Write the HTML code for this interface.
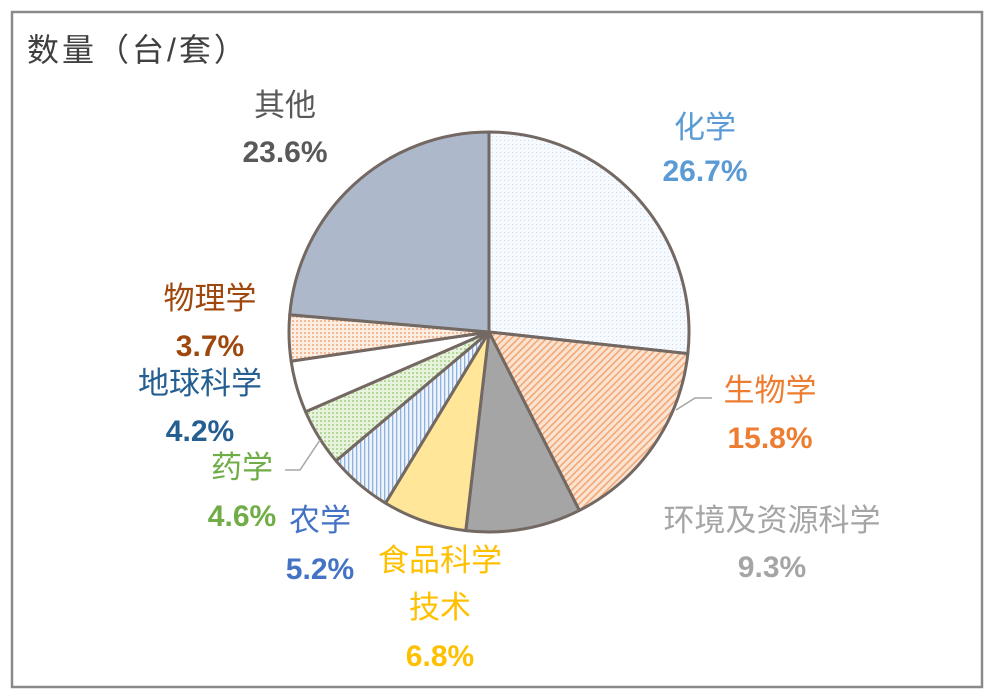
<!DOCTYPE html>
<html><head><meta charset="utf-8"><style>
html,body{margin:0;padding:0;background:#fff;}
svg{display:block;}
text{font-family:"Liberation Sans","Noto Sans CJK SC",sans-serif;font-size:31px;text-anchor:middle;}
.p{font-weight:bold;font-size:30px;}
</style></head><body>
<svg id="s" width="993" height="699" viewBox="0 0 993 699" xmlns="http://www.w3.org/2000/svg">
<defs>
<pattern id="dots" width="4" height="4" patternUnits="userSpaceOnUse"><rect width="4" height="4" fill="#f6f9fd"/><rect width="1" height="1" fill="#c9dcef"/></pattern>
<pattern id="diag" width="5" height="5" patternUnits="userSpaceOnUse" patternTransform="rotate(45)"><rect width="5" height="5" fill="#fbe3d2"/><rect width="1.6" height="5" fill="#f1a875"/></pattern>
<pattern id="vert" width="4" height="4" patternUnits="userSpaceOnUse"><rect width="4" height="4" fill="#eef4fb"/><rect width="1.3" height="4" fill="#8fb1dd"/></pattern>
<pattern id="grid" width="4" height="4" patternUnits="userSpaceOnUse"><rect width="4" height="4" fill="#e8f3de"/><rect width="2" height="2" fill="#b5d79a"/></pattern>
<pattern id="cross" width="4" height="4" patternUnits="userSpaceOnUse"><rect width="4" height="4" fill="#fdeee4"/><rect width="2" height="2" fill="#f3b894"/></pattern>
</defs>
<rect x="12" y="12" width="970" height="675" fill="#fff" stroke="#8a8a8a" stroke-width="2.5"/>
<g id="pie"></g>
<polyline points="676,410 695,398 712,398" fill="none" stroke="#a5a5a5" stroke-width="1.5"/>
<polyline points="320,440 300,470 285,470" fill="none" stroke="#a5a5a5" stroke-width="1.5"/>
<text x="27" y="61" style="text-anchor:start;font-size:32px;letter-spacing:3px" fill="#404040">数量（台/套）</text>
<text x="285" y="116" fill="#595959">其他</text><text class="p" x="285" y="162" fill="#595959">23.6%</text>
<text x="705" y="138" fill="#5b9bd5">化学</text><text class="p" x="705" y="181" fill="#5b9bd5">26.7%</text>
<text x="770" y="401" fill="#ed7d31">生物学</text><text class="p" x="770" y="448" fill="#ed7d31">15.8%</text>
<text x="772" y="531" fill="#a5a5a5">环境及资源科学</text><text class="p" x="772" y="577" fill="#a5a5a5">9.3%</text>
<text x="440" y="571" fill="#ffc000">食品科学</text><text x="440" y="618" fill="#ffc000">技术</text><text class="p" x="440" y="666" fill="#ffc000">6.8%</text>
<text x="320" y="531" fill="#4472c4">农学</text><text class="p" x="320" y="579" fill="#4472c4">5.2%</text>
<text x="242" y="478" fill="#70ad47">药学</text><text class="p" x="242" y="526" fill="#70ad47">4.6%</text>
<text x="200" y="394" fill="#255e91">地球科学</text><text class="p" x="200" y="441" fill="#255e91">4.2%</text>
<text x="210" y="309" fill="#9e480e">物理学</text><text class="p" x="210" y="356" fill="#9e480e">3.7%</text>
</svg>
<script>
var cx=489,cy=332,r=200;
var d=[[26.7,"url(#dots)"],[15.8,"url(#diag)"],[9.3,"#a5a5a5"],[6.8,"#ffe699"],[5.2,"url(#vert)"],[4.6,"url(#grid)"],[4.2,"#ffffff"],[3.7,"url(#cross)"],[23.6,"#adb9ca"]];
var tot=0;d.forEach(function(x){tot+=x[0];});
var a=0,h="";
d.forEach(function(x){
 var a2=a+x[0]/tot*2*Math.PI;
 var x1=cx+r*Math.sin(a),y1=cy-r*Math.cos(a),x2=cx+r*Math.sin(a2),y2=cy-r*Math.cos(a2);
 h+='<path d="M'+cx+','+cy+' L'+x1+','+y1+' A'+r+','+r+' 0 '+((a2-a)>Math.PI?1:0)+' 1 '+x2+','+y2+' Z" fill="'+x[1]+'" stroke="#736862" stroke-width="3" stroke-linejoin="round"/>';
 a=a2;
});
document.getElementById("pie").innerHTML=h;
</script>
</body></html>
